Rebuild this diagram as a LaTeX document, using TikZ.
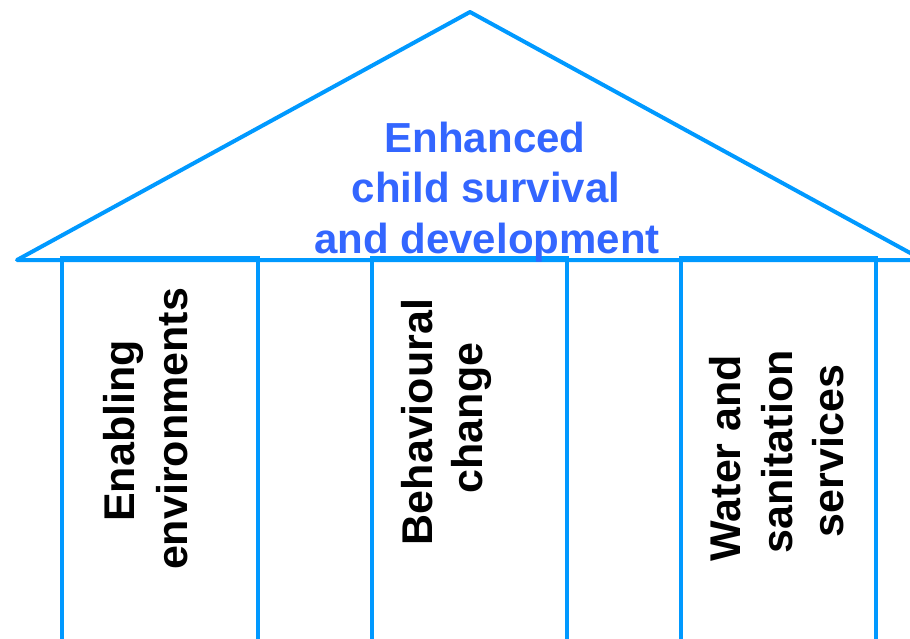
\documentclass[tikz,border=0pt]{standalone}
\usepackage{fontspec}
\setmainfont{Liberation Sans}
\definecolor{roofblue}{RGB}{0,153,255}
\definecolor{textblue}{RGB}{51,102,255}
\begin{document}
\begin{tikzpicture}[x=1pt,y=-1pt,
  frame/.style={draw=roofblue,line width=4pt,line join=round},
  pillarframe/.style={draw=roofblue,line width=3.6pt,line join=miter},
  rooflabel/.style={text=textblue,font=\fontsize{42}{50}\selectfont\bfseries,anchor=base,inner sep=0pt},
  pillarlabel/.style={text=black,font=\fontsize{43}{52}\selectfont\bfseries,anchor=base,rotate=90,inner sep=0pt}]
\useasboundingbox (0,0) rectangle (910,639);
\clip (0,0) rectangle (910,639);
% roof
\coordinate (roofL) at (17,260);
\coordinate (apex) at (470,12);
\coordinate (roofR) at (923,260);
\draw[frame] (roofL) -- (apex) -- (roofR) -- cycle;
% pillars
\draw[pillarframe] (62,645) -- (62,258) -- (258,258) -- (258,645);
\draw[pillarframe] (372,645) -- (372,258) -- (567,258) -- (567,645);
\draw[pillarframe] (681,645) -- (681,258) -- (876,258) -- (876,645);
% roof text
\node[rooflabel] (t1) at (485,153) {Enhanced};
\node[rooflabel] (t2) at (486,203) {child survival};
\node[rooflabel] (t3) at (487,253) {and development};
% pillar texts
\node[pillarlabel] (p1a) at (134,431) {Enabling};
\node[pillarlabel] (p1b) at (187,429) {environments};
\node[pillarlabel] (p2a) at (432,422) {Behavioural};
\node[pillarlabel] (p2b) at (482,418) {change};
\node[pillarlabel] (p3a) at (740,458) {Water and};
\node[pillarlabel] (p3b) at (792,452) {sanitation};
\node[pillarlabel] (p3c) at (843,451) {services};
\end{tikzpicture}
\end{document}
